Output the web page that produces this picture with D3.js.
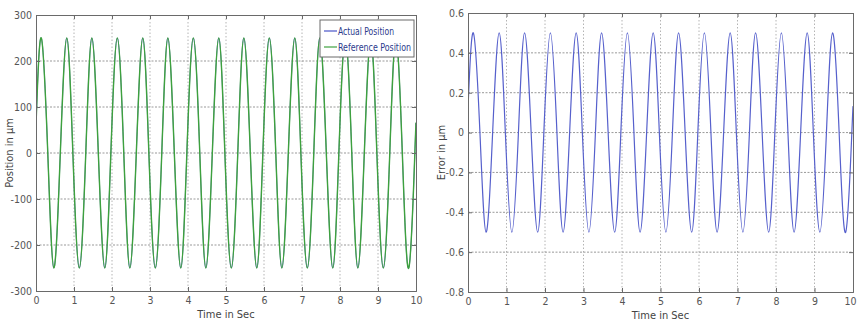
<!DOCTYPE html>
<html>
<head>
<meta charset="utf-8">
<script src="https://cdn.jsdelivr.net/npm/d3@7"></script>
<style>
  body { margin: 0; background: #fff; }
  text { font-family: "DejaVu Sans Condensed", "Liberation Sans Narrow", "Liberation Sans", Arial, sans-serif; font-stretch: condensed; }
  .grid line { stroke: #b4b4b4; stroke-dasharray: 1.5,2; stroke-width: 1; }
  .axis path, .axis line { stroke: #6a6a6a; }
  .axis text { fill: #555; font-size: 10.5px; }
</style>
</head>
<body>
<script>
// time samples (peaks, zero crossings, troughs)
var timeSec = [0, 0.14, 0.31, 0.47, 0.64, 0.81, 0.97, 1.14, 1.31, 1.47, 1.64, 1.81, 1.97,
  2.14, 2.31, 2.47, 2.64, 2.81, 2.97, 3.14, 3.31, 3.47, 3.64, 3.81, 3.97,
  4.14, 4.31, 4.47, 4.64, 4.81, 4.97, 5.14, 5.31, 5.47, 5.64, 5.81, 5.97,
  6.14, 6.31, 6.47, 6.64, 6.81, 6.97, 7.14, 7.31, 7.47, 7.64, 7.81, 7.97,
  8.14, 8.31, 8.47, 8.64, 8.81, 8.97, 9.14, 9.31, 9.47, 9.64, 9.81, 9.97, 10];

// reference position (um)
var referencePos = [60, 250, 0, -250, 0, 250, 0, -250, 0, 250, 0, -250, 0,
  250, 0, -250, 0, 250, 0, -250, 0, 250, 0, -250, 0,
  250, 0, -250, 0, 250, 0, -250, 0, 250, 0, -250, 0,
  250, 0, -250, 0, 250, 0, -250, 0, 250, 0, -250, 0,
  250, 0, -250, 0, 250, 0, -250, 0, 250, 0, -250, 0, 60];

// actual position (um) - hidden under the green line, same readings
var actualPos = [60, 250, 0, -250, 0, 250, 0, -250, 0, 250, 0, -250, 0,
  250, 0, -250, 0, 250, 0, -250, 0, 250, 0, -250, 0,
  250, 0, -250, 0, 250, 0, -250, 0, 250, 0, -250, 0,
  250, 0, -250, 0, 250, 0, -250, 0, 250, 0, -250, 0,
  250, 0, -250, 0, 250, 0, -250, 0, 250, 0, -250, 0, 60];

// error (um)
var errorUm = [0.12, 0.5, 0, -0.5, 0, 0.5, 0, -0.5, 0, 0.5, 0, -0.5, 0,
  0.5, 0, -0.5, 0, 0.5, 0, -0.5, 0, 0.5, 0, -0.5, 0,
  0.5, 0, -0.5, 0, 0.5, 0, -0.5, 0, 0.5, 0, -0.5, 0,
  0.5, 0, -0.5, 0, 0.5, 0, -0.5, 0, 0.5, 0, -0.5, 0,
  0.5, 0, -0.5, 0, 0.5, 0, -0.5, 0, 0.5, 0, -0.5, 0, 0.12];

// tick values
var xTicks = [0, 1, 2, 3, 4, 5, 6, 7, 8, 9, 10];
var posTicks = [-300, -200, -100, 0, 100, 200, 300];
var errTicks = [-0.8, -0.6, -0.4, -0.2, 0, 0.2, 0.4, 0.6];

var legendLabels = ["Actual Position", "Reference Position"];

var svgWidth = 858;
var svgHeight = 322;

var svg = d3.select("body").append("svg")
    .attr("width", svgWidth)
    .attr("height", svgHeight);

// draw one matlab-style panel
function drawPanel(box, yDomain, yTicks, yLabel, series) {
  var x = d3.scaleLinear().domain([0, 10]).range([box.left, box.right]);
  var y = d3.scaleLinear().domain(yDomain).range([box.bottom, box.top]);
  var w = box.right - box.left;
  var h = box.bottom - box.top;

  // grid
  var grid = svg.append("g").attr("class", "grid");
  grid.selectAll("line.v").data(xTicks.slice(1, -1)).enter().append("line")
      .attr("x1", d => x(d)).attr("x2", d => x(d))
      .attr("y1", box.top).attr("y2", box.bottom);
  grid.selectAll("line.h").data(yTicks.slice(1, -1)).enter().append("line")
      .attr("x1", box.left).attr("x2", box.right)
      .attr("y1", d => y(d)).attr("y2", d => y(d))
      .style("stroke", "#999").style("stroke-dasharray", "2,1.5");

  // lines
  var clipId = "clip" + Math.round(box.left);
  svg.append("clipPath").attr("id", clipId).append("rect")
      .attr("x", box.left).attr("y", box.top).attr("width", w).attr("height", h);

  series.forEach(s => {
    var line = d3.line()
        .x((d, i) => x(timeSec[i]))
        .y(d => y(d))
        .curve(d3.curveNatural);
    svg.append("path")
        .attr("clip-path", "url(#" + clipId + ")")
        .attr("d", line(s.values))
        .attr("fill", "none")
        .attr("stroke", s.color)
        .attr("stroke-width", s.width);
  });

  // axes with inward ticks
  var bottom = svg.append("g").attr("class", "axis")
      .attr("transform", `translate(0, ${box.bottom})`)
      .call(d3.axisBottom(x).tickValues(xTicks).tickSize(-4).tickPadding(6).tickFormat(d => String(d)));
  // last label sits against the page edge on the right panel
  bottom.selectAll(".tick text").filter(d => d === 10).attr("dx", box.lastDx || 0);
  svg.append("g").attr("class", "axis")
      .attr("transform", `translate(0, ${box.top})`)
      .call(d3.axisTop(x).tickValues(xTicks).tickSize(-4).tickFormat(""));
  svg.append("g").attr("class", "axis")
      .attr("transform", `translate(${box.left}, 0)`)
      .call(d3.axisLeft(y).tickValues(yTicks).tickSize(-4).tickPadding(4).tickFormat(d => String(+d.toFixed(1))));
  svg.append("g").attr("class", "axis")
      .attr("transform", `translate(${box.right}, 0)`)
      .call(d3.axisRight(y).tickValues(yTicks).tickSize(-4).tickFormat(""));

  // axis labels
  svg.append("text")
      .attr("x", (box.left + box.right) / 2)
      .attr("y", box.bottom + 27)
      .attr("text-anchor", "middle")
      .style("font-size", "11px").style("fill", "#444")
      .text("Time in Sec");
  svg.append("text")
      .attr("transform", `translate(${box.labelX}, ${(box.top + box.bottom) / 2}) rotate(-90)`)
      .attr("text-anchor", "middle")
      .style("font-size", "11px").style("fill", "#444")
      .text(yLabel);

  return { x: x, y: y };
}

// left panel: position
var left = { left: 36, right: 416, top: 15, bottom: 291, labelX: 13 };
drawPanel(left, [-300, 300], posTicks, "Position in \u00b5m", [
  { values: actualPos, color: "#4a55c8", width: 0.8 },
  { values: referencePos, color: "#3ea13e", width: 1.4 }
]);

// legend
var lg = svg.append("g").attr("transform", "translate(320, 20)");
lg.append("rect").attr("width", 94).attr("height", 37)
    .attr("fill", "#fff").attr("stroke", "#6a6a6a");
var legendColors = ["#4a55c8", "#3ea13e"];
var legendWidths = [56, 73];
legendLabels.forEach((t, i) => {
  lg.append("line")
      .attr("x1", 4).attr("x2", 17)
      .attr("y1", 11 + i * 16).attr("y2", 11 + i * 16)
      .attr("stroke", legendColors[i]).attr("stroke-width", 1.2);
  lg.append("text")
      .attr("x", 18).attr("y", 15 + i * 16)
      .attr("textLength", legendWidths[i])
      .attr("lengthAdjust", "spacingAndGlyphs")
      .style("font-size", "10.5px").style("fill", "#2b3a8c")
      .text(t);
});

// right panel: error
var right = { left: 468, right: 853, top: 13, bottom: 292, labelX: 445, lastDx: -3 };
drawPanel(right, [-0.8, 0.6], errTicks, "Error in \u00b5m", [
  { values: errorUm, color: "#5660cc", width: 1.2 }
]);
</script>
</body>
</html>
